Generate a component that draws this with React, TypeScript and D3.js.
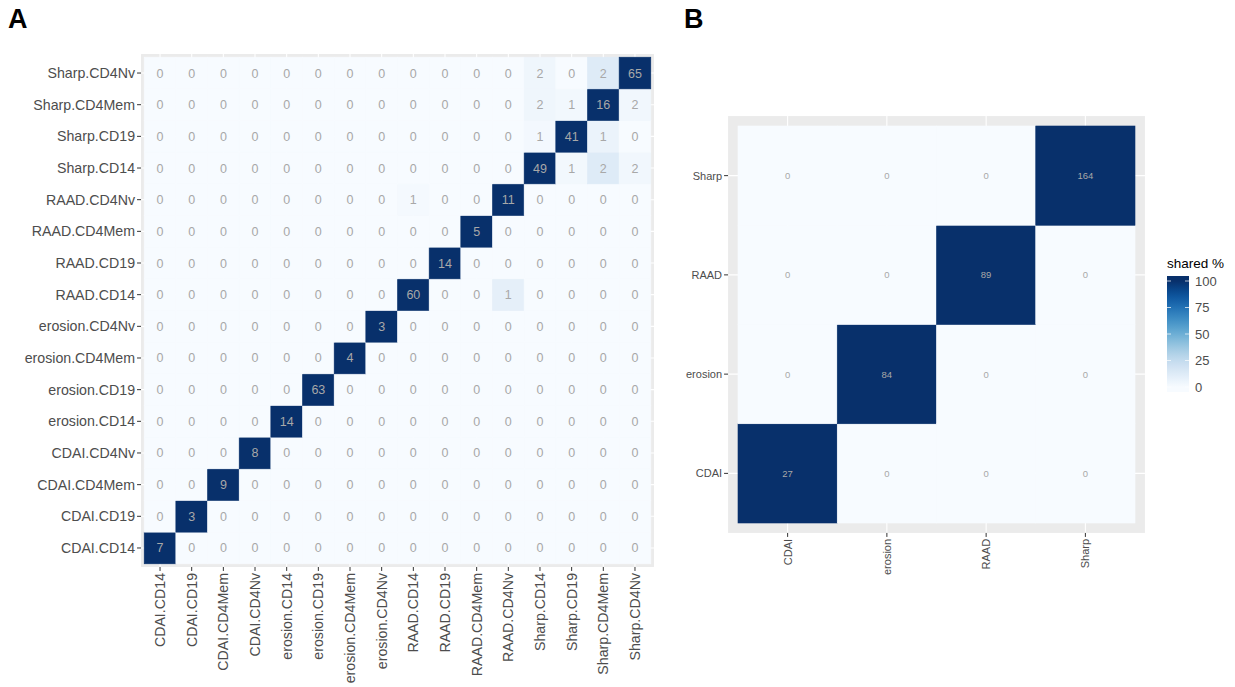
import React from "react";
import * as d3 from "d3";

// ---------- Panel A data ----------
const catsA = [
  "CDAI.CD14", "CDAI.CD19", "CDAI.CD4Mem", "CDAI.CD4Nv",
  "erosion.CD14", "erosion.CD19", "erosion.CD4Mem", "erosion.CD4Nv",
  "RAAD.CD14", "RAAD.CD19", "RAAD.CD4Mem", "RAAD.CD4Nv",
  "Sharp.CD14", "Sharp.CD19", "Sharp.CD4Mem", "Sharp.CD4Nv",
];
// rows follow catsA order; columns follow catsA order
const countsA: number[][] = [
  [7, 0, 0, 0, 0, 0, 0, 0, 0, 0, 0, 0, 0, 0, 0, 0],
  [0, 3, 0, 0, 0, 0, 0, 0, 0, 0, 0, 0, 0, 0, 0, 0],
  [0, 0, 9, 0, 0, 0, 0, 0, 0, 0, 0, 0, 0, 0, 0, 0],
  [0, 0, 0, 8, 0, 0, 0, 0, 0, 0, 0, 0, 0, 0, 0, 0],
  [0, 0, 0, 0, 14, 0, 0, 0, 0, 0, 0, 0, 0, 0, 0, 0],
  [0, 0, 0, 0, 0, 63, 0, 0, 0, 0, 0, 0, 0, 0, 0, 0],
  [0, 0, 0, 0, 0, 0, 4, 0, 0, 0, 0, 0, 0, 0, 0, 0],
  [0, 0, 0, 0, 0, 0, 0, 3, 0, 0, 0, 0, 0, 0, 0, 0],
  [0, 0, 0, 0, 0, 0, 0, 0, 60, 0, 0, 1, 0, 0, 0, 0],
  [0, 0, 0, 0, 0, 0, 0, 0, 0, 14, 0, 0, 0, 0, 0, 0],
  [0, 0, 0, 0, 0, 0, 0, 0, 0, 0, 5, 0, 0, 0, 0, 0],
  [0, 0, 0, 0, 0, 0, 0, 0, 1, 0, 0, 11, 0, 0, 0, 0],
  [0, 0, 0, 0, 0, 0, 0, 0, 0, 0, 0, 0, 49, 1, 2, 2],
  [0, 0, 0, 0, 0, 0, 0, 0, 0, 0, 0, 0, 1, 41, 1, 0],
  [0, 0, 0, 0, 0, 0, 0, 0, 0, 0, 0, 0, 2, 1, 16, 2],
  [0, 0, 0, 0, 0, 0, 0, 0, 0, 0, 0, 0, 2, 0, 2, 65],
];

// ---------- Panel B data ----------
const catsB = ["CDAI", "erosion", "RAAD", "Sharp"];
const countsB: number[][] = [
  [27, 0, 0, 0],
  [0, 84, 0, 0],
  [0, 0, 89, 0],
  [0, 0, 0, 164],
];

const legendTicks = [0, 25, 50, 75, 100];

const FONT = "'Liberation Sans', Arial, sans-serif";
const AXIS_TXT = "#4d4d4d";
const TICK = "#333333";
const PANEL_BG = "#ebebeb";
const CELL_TXT = "#a8a8a8";

const color = d3.scaleSequential(d3.interpolateBlues).domain([0, 100]).clamp(true);

type Cell = { r: number; c: number; count: number; pct: number };

function cellsFrom(counts: number[][]): Cell[] {
  const out: Cell[] = [];
  counts.forEach((row, r) =>
    row.forEach((count, c) => {
      const diag = counts[c][c];
      out.push({ r, c, count, pct: diag > 0 ? (count / diag) * 100 : 0 });
    })
  );
  return out;
}

function Heatmap(props: {
  cats: string[];
  counts: number[][];
  x0: number; x1: number; y0: number; y1: number;
  expand: number;
  axisFont: number;
  cellFont: number;
}) {
  const { cats, counts, x0, x1, y0, y1, expand, axisFont, cellFont } = props;
  const x = d3.scaleBand<string>().domain(cats).range([x0, x1]).padding(0);
  const y = d3.scaleBand<string>().domain([...cats].reverse()).range([y0, y1]).padding(0);
  const bw = x.bandwidth();
  const bh = y.bandwidth();
  const ex = bw * expand;
  const ey = bh * expand;
  const cells = cellsFrom(counts);
  const px0 = x0 - ex, px1 = x1 + ex, py0 = y0 - ey, py1 = y1 + ey;
  return (
    <g>
      <rect x={px0} y={py0} width={px1 - px0} height={py1 - py0} fill={PANEL_BG} />
      {cats.map((c) => (
        <line key={"gx" + c} x1={x(c)! + bw / 2} x2={x(c)! + bw / 2} y1={py0} y2={py1} stroke="#fff" strokeWidth={1.1} />
      ))}
      {cats.map((c) => (
        <line key={"gy" + c} y1={y(c)! + bh / 2} y2={y(c)! + bh / 2} x1={px0} x2={px1} stroke="#fff" strokeWidth={1.1} />
      ))}
      {cells.map((d) => (
        <rect
          key={`t${d.r}-${d.c}`}
          x={x(cats[d.c])!}
          y={y(cats[d.r])!}
          width={bw}
          height={bh}
          fill={color(d.pct)}
          stroke={color(d.pct)}
          strokeWidth={0.6}
        />
      ))}
      {cells.map((d) => (
        <text
          key={`l${d.r}-${d.c}`}
          x={x(cats[d.c])! + bw / 2}
          y={y(cats[d.r])! + bh / 2}
          dy="0.36em"
          textAnchor="middle"
          fontFamily={FONT}
          fontSize={cellFont}
          fill={CELL_TXT}
        >
          {d.count}
        </text>
      ))}
      {/* y axis */}
      {cats.map((c) => (
        <g key={"ya" + c}>
          <line x1={px0 - 4} x2={px0} y1={y(c)! + bh / 2} y2={y(c)! + bh / 2} stroke={TICK} strokeWidth={1} />
          <text
            x={px0 - 6}
            y={y(c)! + bh / 2}
            dy="0.36em"
            textAnchor="end"
            fontFamily={FONT}
            fontSize={axisFont}
            fill={AXIS_TXT}
          >
            {c}
          </text>
        </g>
      ))}
      {/* x axis */}
      {cats.map((c) => {
        const cx = x(c)! + bw / 2;
        const ty = py1 + 6;
        return (
          <g key={"xa" + c}>
            <line x1={cx} x2={cx} y1={py1} y2={py1 + 4} stroke={TICK} strokeWidth={1} />
            <text
              transform={`translate(${cx},${ty}) rotate(-90)`}
              dy="0.36em"
              textAnchor="end"
              fontFamily={FONT}
              fontSize={axisFont}
              fill={AXIS_TXT}
            >
              {c}
            </text>
          </g>
        );
      })}
    </g>
  );
}

function Legend() {
  const bx = 1167, bw = 22, btop = 276, bbot = 392;
  const s = d3.scaleLinear().domain([0, 100]).range([387, 281]);
  const stops = d3.range(0, 101, 5);
  return (
    <g>
      <defs>
        <linearGradient id="lg" x1="0" y1="1" x2="0" y2="0">
          {stops.map((v) => {
            const off = (bbot - s(v)) / (bbot - btop);
            return <stop key={v} offset={off} stopColor={color(v)} />;
          })}
        </linearGradient>
      </defs>
      <text x={bx} y={268} fontFamily={FONT} fontSize={13.5} fill="#000">shared %</text>
      <rect x={bx} y={btop} width={bw} height={bbot - btop} fill="url(#lg)" />
      {legendTicks.map((v) => (
        <g key={v}>
          <line x1={bx} x2={bx + 4} y1={s(v)} y2={s(v)} stroke="#fff" strokeWidth={1} opacity={0.7} />
          <line x1={bx + bw - 4} x2={bx + bw} y1={s(v)} y2={s(v)} stroke="#fff" strokeWidth={1} opacity={0.7} />
          <text x={bx + bw + 6} y={s(v)} dy="0.36em" fontFamily={FONT} fontSize={13} fill={AXIS_TXT}>{v}</text>
        </g>
      ))}
    </g>
  );
}

export default function App() {
  return (
    <svg
      width={1235}
      height={687}
      style={{ position: "absolute", left: 0, top: 0, background: "#fff" }}
    >
      <rect x={0} y={0} width={1235} height={687} fill="#fff" />
      <text x={8} y={28} fontFamily={FONT} fontWeight="bold" fontSize={27}>A</text>
      <text x={684} y={28} fontFamily={FONT} fontWeight="bold" fontSize={27}>B</text>
      <Heatmap
        cats={catsA}
        counts={countsA}
        x0={144.2}
        x1={650.8}
        y0={57.2}
        y1={563.8}
        expand={0.1}
        axisFont={14.2}
        cellFont={12.5}
      />
      <Heatmap
        cats={catsB}
        counts={countsB}
        x0={738}
        x1={1135}
        y0={126}
        y1={523}
        expand={0.1}
        axisFont={11}
        cellFont={9.5}
      />
      <Legend />
    </svg>
  );
}
